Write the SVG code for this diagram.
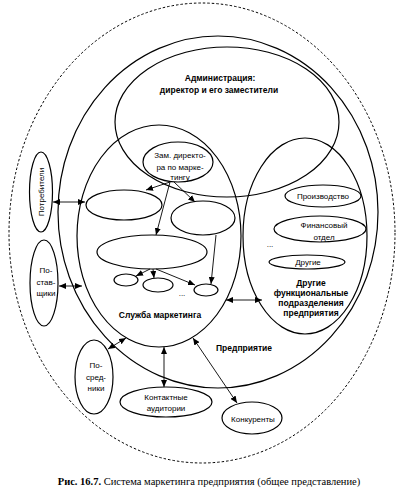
<svg xmlns="http://www.w3.org/2000/svg" width="405" height="491" viewBox="0 0 405 491">
<style>
.e{fill:none;stroke:#000;stroke-width:1.2}
.c line{stroke:#000;stroke-width:0.9}
.t{font-family:"Liberation Sans",Arial,sans-serif;font-size:8px;fill:#000;text-anchor:middle}
.b{font-weight:bold;font-size:8.5px}
.cap{font-family:"Liberation Serif","Times New Roman",serif;font-size:10.5px;fill:#000;text-anchor:middle}
</style>
<defs>
<marker id="ah" markerUnits="userSpaceOnUse" markerWidth="7" markerHeight="6" refX="7" refY="3" orient="auto-start-reverse">
<path d="M0,0 L7,3 L0,6 z" fill="#000"/>
</marker>
</defs>
<rect width="405" height="491" fill="#fff"/>
<g id="environment"><ellipse cx="202" cy="233" rx="193" ry="230" fill="none" stroke="#000" stroke-width="1" stroke-dasharray="2.5,2"/></g>
<g id="enterprise"><ellipse class="e" cx="218" cy="212" rx="160" ry="176"/><text class="t b" x="244" y="351">Предприятие</text></g>
<g id="administration"><ellipse class="e" cx="227" cy="122" rx="112" ry="75"/><text class="t b" x="220" y="81">Администрация:</text><text class="t b" x="219" y="93">директор и его заместители</text></g>
<g id="marketing"><ellipse class="e" cx="159" cy="236" rx="82" ry="111"/><text class="t b" x="160" y="318">Служба маркетинга</text></g>
<g id="functional"><ellipse class="e" cx="305" cy="236" rx="62" ry="98"/><text class="t b" x="311" y="286">Другие</text><text class="t b" x="311" y="296">функциональные</text><text class="t b" x="311" y="306">подразделения</text><text class="t b" x="311" y="316">предприятия</text></g>
<g id="deputy"><ellipse class="e" cx="178" cy="162" rx="35" ry="20"/><text class="t" x="180" y="158">Зам. директо-</text><text class="t" x="180" y="169.5">ра по марке-</text><text class="t" x="180" y="180">тингу</text></g>
<g id="unitA"><ellipse class="e" cx="124" cy="205" rx="38" ry="15"/></g>
<g id="unitB"><ellipse class="e" cx="203" cy="218" rx="32" ry="17"/></g>
<g id="unitC"><ellipse class="e" cx="152" cy="252" rx="55" ry="17"/></g>
<g id="sub1"><ellipse class="e" cx="126" cy="280" rx="12" ry="6"/></g>
<g id="sub2"><ellipse class="e" cx="158" cy="285" rx="15" ry="7"/></g>
<g id="sub3"><ellipse class="e" cx="206" cy="290" rx="12" ry="6"/></g>
<g id="subdots"><text class="t" x="182" y="296">...</text></g>
<g id="production"><ellipse class="e" cx="323" cy="196" rx="38" ry="11"/><text class="t" x="323" y="198.5">Производство</text></g>
<g id="finance"><ellipse class="e" cx="320" cy="229" rx="46" ry="13"/><text class="t" x="324" y="228">Финансовый</text><text class="t" x="324" y="240">отдел</text></g>
<g id="fdots"><text class="t" x="270" y="247">...</text></g>
<g id="others"><ellipse class="e" cx="307" cy="262" rx="38" ry="7"/><text class="t" x="308" y="265">Другие</text></g>
<g id="consumers"><ellipse class="e" cx="41" cy="192" rx="11.5" ry="40"/><text class="t" transform="translate(41,192) rotate(-90)" x="0" y="3">Потребители</text></g>
<g id="suppliers"><ellipse class="e" cx="44" cy="283" rx="14" ry="43"/><text class="t" x="46" y="273">По-</text><text class="t" x="46" y="285">став-</text><text class="t" x="46" y="296">щики</text></g>
<g id="intermediaries"><ellipse class="e" cx="94" cy="377" rx="19" ry="37"/><text class="t" x="96" y="368">По-</text><text class="t" x="96" y="380">сред-</text><text class="t" x="96" y="391">ники</text></g>
<g id="audiences"><ellipse class="e" cx="166" cy="402" rx="46" ry="15"/><text class="t" x="166" y="400">Контактные</text><text class="t" x="166" y="411">аудитории</text></g>
<g id="competitors"><ellipse class="e" cx="252" cy="418" rx="30" ry="16"/><text class="t" x="253" y="422">Конкуренты</text></g>
<g id="connectors" class="c">
<line x1="53" y1="202" x2="85" y2="202" marker-start="url(#ah)" marker-end="url(#ah)"/>
<line x1="59" y1="286" x2="82" y2="286" marker-start="url(#ah)" marker-end="url(#ah)"/>
<line x1="226" y1="300" x2="262" y2="300" marker-start="url(#ah)" marker-end="url(#ah)"/>
<line x1="108" y1="349" x2="126" y2="338" marker-start="url(#ah)" marker-end="url(#ah)"/>
<line x1="164" y1="347" x2="164" y2="387" marker-start="url(#ah)" marker-end="url(#ah)"/>
<line x1="193" y1="338" x2="237" y2="403" marker-start="url(#ah)" marker-end="url(#ah)"/>
<line x1="170" y1="182" x2="146" y2="190" marker-end="url(#ah)"/>
<line x1="174" y1="182" x2="195" y2="202" marker-end="url(#ah)"/>
<line x1="170" y1="182" x2="156" y2="235" marker-end="url(#ah)"/>
<line x1="216" y1="235" x2="211" y2="284" marker-end="url(#ah)"/>
<line x1="150" y1="269" x2="136" y2="276" marker-end="url(#ah)"/>
<line x1="153" y1="269" x2="154" y2="278" marker-end="url(#ah)"/>
<line x1="156" y1="269" x2="195" y2="285" marker-end="url(#ah)"/>
</g>
<text class="cap" x="209" y="485"><tspan font-weight="bold">Рис. 16.7.</tspan> Система маркетинга предприятия (общее представление)</text>
</svg>
